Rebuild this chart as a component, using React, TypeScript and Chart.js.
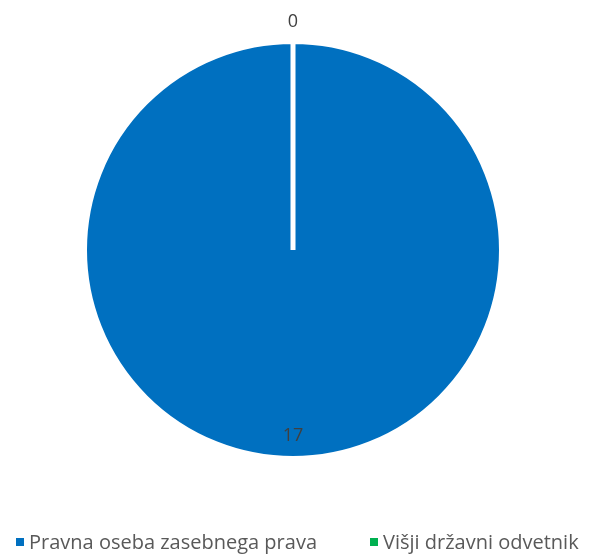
import React, { useEffect, useRef } from "react";
import { Chart, registerables } from "chart.js";

Chart.register(...registerables);

const categories = ["Pravna oseba zasebnega prava", "Višji državni odvetnik"];
const values = [17, 0];
const colors = ["#0070C0", "#00B050"];

const FONT = "'Open Sans', 'Liberation Sans', Arial, sans-serif";

const labelPlugin = {
  id: "sliceLabels",
  afterDatasetsDraw(chart: any) {
    const ctx = chart.ctx;
    const meta = chart.getDatasetMeta(0);
    ctx.save();
    ctx.fillStyle = "#404040";
    ctx.font = `18px ${FONT}`;
    ctx.textAlign = "center";
    ctx.textBaseline = "middle";
    meta.data.forEach((arc: any, i: number) => {
      const { x, y, startAngle, endAngle, outerRadius } = arc.getProps(
        ["x", "y", "startAngle", "endAngle", "outerRadius"],
        true
      );
      const mid = (startAngle + endAngle) / 2;
      const r = values[i] === 0 ? outerRadius + 20 : outerRadius * 0.89;
      ctx.fillText(String(values[i]), x + Math.cos(mid) * r, y + Math.sin(mid) * r);
    });
    ctx.restore();
  },
};

export default function App() {
  const ref = useRef<HTMLCanvasElement>(null);
  useEffect(() => {
    const chart = new Chart(ref.current!, {
      type: "pie",
      data: {
        labels: categories,
        datasets: [
          {
            data: values,
            backgroundColor: colors,
            borderColor: "#ffffff",
            borderWidth: 5,
          },
        ],
      },
      options: {
        animation: false,
        responsive: false,
        layout: { padding: { left: 82, right: 87, top: 39, bottom: 94 } },
        plugins: {
          legend: { display: false },
          tooltip: { enabled: false },
        },
      },
      plugins: [labelPlugin],
    });
    return () => chart.destroy();
  }, []);

  return (
    <div style={{ position: "fixed", left: 0, top: 0, width: 591, height: 555, background: "#fff" }}>
      <canvas ref={ref} width={591} height={555} style={{ display: "block" }} />
      {categories.map((c, i) => (
        <div
          key={c}
          style={{
            position: "absolute",
            left: i === 0 ? 16 : 370,
            top: 528,
            display: "flex",
            alignItems: "center",
            fontFamily: FONT,
            fontSize: 20,
            color: "#595959",
            whiteSpace: "nowrap",
          }}
        >
          <span style={{ width: 8, height: 8, background: colors[i], display: "inline-block", marginRight: 5 }} />
          {c}
        </div>
      ))}
    </div>
  );
}
